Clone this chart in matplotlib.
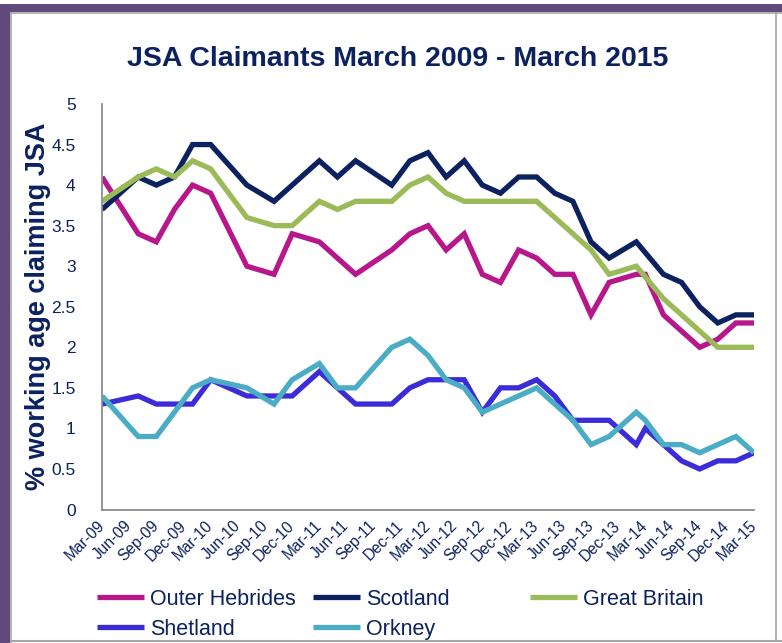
import matplotlib
matplotlib.use("Agg")
import matplotlib.pyplot as plt
from matplotlib.patches import Rectangle
from matplotlib.lines import Line2D

plt.rcParams['font.family'] = ['Liberation Sans', 'DejaVu Sans']

# Months since March 2009 (0 = Mar-09 ... 72 = Mar-15)
oh_months = [0, 4, 6, 8, 10, 12, 16, 19, 21, 24, 28, 32, 34, 36, 38, 40, 42, 44, 46, 48,
             50, 52, 54, 56, 59, 60, 62, 66, 68, 70, 72]
oh_values = [4.1, 3.4, 3.3, 3.7, 4.0, 3.9, 3.0, 2.9, 3.4, 3.3, 2.9, 3.2, 3.4, 3.5, 3.2, 3.4, 2.9, 2.8, 3.2, 3.1,
             2.9, 2.9, 2.4, 2.8, 2.9, 2.9, 2.4, 2.0, 2.1, 2.3, 2.3]

scot_months = [0, 4, 6, 8, 10, 12, 16, 19, 24, 26, 28, 32, 34, 36, 38, 40, 42, 44, 46, 48,
               50, 52, 54, 56, 59, 62, 64, 66, 68, 70, 72]
scot_values = [3.7, 4.1, 4.0, 4.1, 4.5, 4.5, 4.0, 3.8, 4.3, 4.1, 4.3, 4.0, 4.3, 4.4, 4.1, 4.3, 4.0, 3.9, 4.1, 4.1,
               3.9, 3.8, 3.3, 3.1, 3.3, 2.9, 2.8, 2.5, 2.3, 2.4, 2.4]

gb_months = [0, 4, 6, 8, 10, 12, 16, 19, 21, 24, 26, 28, 32, 34, 36, 38, 40, 48, 54, 56, 59, 62, 68, 72]
gb_values = [3.8, 4.1, 4.2, 4.1, 4.3, 4.2, 3.6, 3.5, 3.5, 3.8, 3.7, 3.8, 3.8, 4.0, 4.1, 3.9, 3.8, 3.8, 3.2, 2.9,
             3.0, 2.6, 2.0, 2.0]

shet_months = [0, 4, 6, 10, 12, 16, 21, 24, 28, 32, 34, 36, 40, 42, 44, 46, 48, 50, 52, 56, 59, 60,
               62, 64, 66, 68, 70, 72]
shet_values = [1.3, 1.4, 1.3, 1.3, 1.6, 1.4, 1.4, 1.7, 1.3, 1.3, 1.5, 1.6, 1.6, 1.2, 1.5, 1.5, 1.6, 1.4, 1.1, 1.1,
               0.8, 1.0, 0.8, 0.6, 0.5, 0.6, 0.6, 0.7]

ork_months = [0, 4, 6, 10, 12, 16, 19, 21, 24, 26, 28, 32, 34, 36, 38, 40, 42, 48, 52, 54, 56, 59, 60,
              62, 64, 66, 70, 72]
ork_values = [1.4, 0.9, 0.9, 1.5, 1.6, 1.5, 1.3, 1.6, 1.8, 1.5, 1.5, 2.0, 2.1, 1.9, 1.6, 1.5, 1.2, 1.5, 1.1, 0.8,
              0.9, 1.2, 1.1, 0.8, 0.8, 0.7, 0.9, 0.7]

tick_labels = ["Mar-09", "Jun-09", "Sep-09", "Dec-09", "Mar-10", "Jun-10", "Sep-10", "Dec-10",
               "Mar-11", "Jun-11", "Sep-11", "Dec-11", "Mar-12", "Jun-12", "Sep-12", "Dec-12",
               "Mar-13", "Jun-13", "Sep-13", "Dec-13", "Mar-14", "Jun-14", "Sep-14", "Dec-14", "Mar-15"]
y_ticks = [0, 0.5, 1, 1.5, 2, 2.5, 3, 3.5, 4, 4.5, 5]

series = [
    ("Outer Hebrides", oh_months, oh_values, "#B8178C"),
    ("Scotland", scot_months, scot_values, "#0B2160"),
    ("Great Britain", gb_months, gb_values, "#9BBB59"),
    ("Shetland", shet_months, shet_values, "#3B2BD9"),
    ("Orkney", ork_months, ork_values, "#4BACC6"),
]

NAVY = "#0B2160"
W, H = 782, 643
fig = plt.figure(figsize=(W / 100, H / 100), dpi=100)
fig.patch.set_facecolor("white")

# Frame
purple = "#604A7B"
fig.add_artist(Rectangle((0, 0), 10 / W, 1 - 4 / H, transform=fig.transFigure, color=purple, lw=0))
fig.add_artist(Rectangle((4 / W, 1 - 12 / H), 1, 8 / H, transform=fig.transFigure, color=purple, lw=0))
fig.add_artist(Line2D([11 / W, 1], [1 - 13 / H, 1 - 13 / H], transform=fig.transFigure, color="#A6A6A6", lw=1.2))
fig.add_artist(Line2D([11 / W, 11 / W], [0, 1 - 13 / H], transform=fig.transFigure, color="#A6A6A6", lw=1.2))
fig.add_artist(Line2D([11 / W, 1], [2.5 / H, 2.5 / H], transform=fig.transFigure, color="#A6A6A6", lw=1.5))
fig.add_artist(Line2D([776 / W, 776 / W], [2.5 / H, 1 - 13 / H], transform=fig.transFigure, color="#A6A6A6", lw=1.2))

ax = fig.add_axes([102 / W, 133.5 / H, 652 / W, 405.5 / H])
handles = {}
for name, xm, yv, col in series:
    ln, = ax.plot(xm, yv, color=col, lw=3.8, solid_joinstyle="miter", solid_capstyle="butt", label=name)
    handles[name] = ln

ax.set_xlim(0, 72)
ax.set_ylim(0, 5)
ax.set_xticks(range(0, 73, 3))
ax.set_xticklabels(tick_labels, rotation=45, ha="right", va="center", rotation_mode="anchor",
                   fontsize=11.2, color=NAVY)
ax.set_yticks(y_ticks)
ax.set_yticklabels([f"{v:g}" for v in y_ticks], fontsize=12.5, color=NAVY)
ax.tick_params(axis="both", length=0)
ax.tick_params(axis="y", pad=19)
ax.tick_params(axis="x", pad=10)
for s in ["top", "right"]:
    ax.spines[s].set_visible(False)
for s in ["left", "bottom"]:
    ax.spines[s].set_color("#8C8C8C")
    ax.spines[s].set_linewidth(1.3)

ax.set_ylabel("% working age claiming JSA", fontsize=19.5, fontweight="bold", color=NAVY, va="center")
ax.yaxis.set_label_coords(-0.098, 0.5)

fig.text(397.5 / W, 1 - 59 / H, "JSA Claimants March 2009 - March 2015", ha="center", va="center",
         fontsize=20.5, fontweight="bold", color=NAVY)

# Legend: three columns placed like the original
cols = [(97, ["Outer Hebrides", "Shetland"]), (313, ["Scotland", "Orkney"]), (530, ["Great Britain"])]
for xpx, names in cols:
    leg = fig.legend([handles[n] for n in names], names, loc="upper left",
                     bbox_to_anchor=(xpx / W, 1 - 589 / H), bbox_transform=fig.transFigure,
                     frameon=False, fontsize=15.5, labelcolor=NAVY, handlelength=2.2,
                     handletextpad=0.25, borderpad=0, borderaxespad=0, labelspacing=0.4)

fig.savefig("out.png", dpi=100)
